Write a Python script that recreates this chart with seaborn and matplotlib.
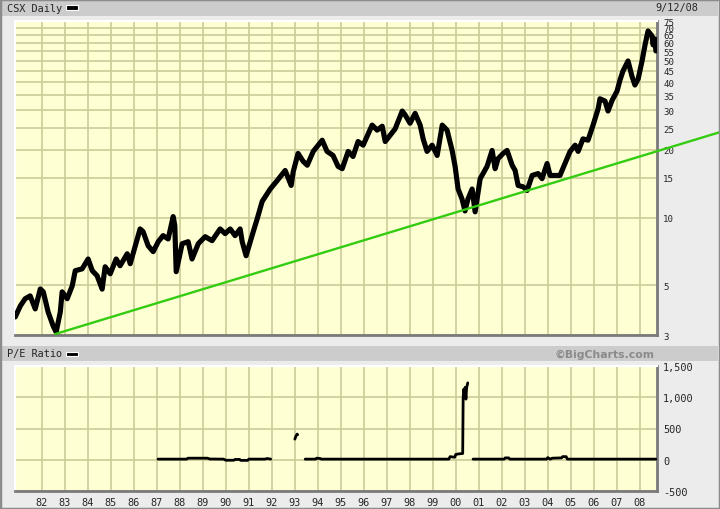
import numpy as np
import pandas as pd
import matplotlib
matplotlib.use("Agg")
import matplotlib.pyplot as plt
from matplotlib.patches import Rectangle
from matplotlib.ticker import NullLocator
import seaborn as sns

# CSX daily close (decimal years)
price_years = [1980.84, 1981.06, 1981.27, 1981.49, 1981.71, 1981.93, 1982.06, 1982.27, 1982.49, 1982.62,
               1982.80, 1982.88, 1983.10, 1983.32, 1983.45, 1983.75, 1984.01, 1984.19, 1984.40, 1984.62,
               1984.75, 1984.97, 1985.23, 1985.40, 1985.71, 1985.84, 1986.06, 1986.27, 1986.40, 1986.62,
               1986.84, 1987.06, 1987.27, 1987.49, 1987.71, 1987.78, 1987.84, 1988.10, 1988.36, 1988.53,
               1988.80, 1989.10, 1989.40, 1989.75, 1989.97, 1990.19, 1990.40, 1990.62, 1990.71, 1990.88,
               1991.14, 1991.36, 1991.58, 1991.93, 1992.23, 1992.58, 1992.84, 1992.93, 1993.14, 1993.36,
               1993.54, 1993.80, 1994.19, 1994.40, 1994.66, 1994.88, 1995.06, 1995.32, 1995.53, 1995.75,
               1995.97, 1996.36, 1996.58, 1996.80, 1996.93, 1997.14, 1997.36, 1997.67, 1997.80, 1998.01,
               1998.23, 1998.45, 1998.58, 1998.75, 1998.97, 1999.19, 1999.41, 1999.62, 1999.84, 1999.97,
               2000.10, 2000.27, 2000.40, 2000.53, 2000.71, 2000.84, 2001.06, 2001.36, 2001.58, 2001.71,
               2001.84, 2002.06, 2002.23, 2002.45, 2002.58, 2002.71, 2002.93, 2003.10, 2003.32, 2003.58,
               2003.75, 2003.97, 2004.10, 2004.32, 2004.53, 2004.75, 2004.97, 2005.19, 2005.32, 2005.53,
               2005.75, 2005.97, 2006.19, 2006.27, 2006.49, 2006.62, 2006.80, 2007.01, 2007.14, 2007.27,
               2007.49, 2007.66, 2007.79, 2007.93, 2008.10, 2008.23, 2008.36, 2008.53, 2008.58, 2008.66,
               2008.70]
price_vals = [3.61, 4.04, 4.35, 4.48, 3.92, 4.81, 4.67, 3.80, 3.29, 3.09,
              3.80, 4.67, 4.35, 4.97, 5.80, 5.91, 6.54, 5.80, 5.51, 4.80,
              6.04, 5.62, 6.54, 6.10, 6.90, 6.23, 7.49, 8.90, 8.66, 7.49,
              7.05, 7.81, 8.31, 8.03, 10.1, 9.2, 5.74, 7.65, 7.81, 6.54,
              7.65, 8.22, 7.89, 8.90, 8.48, 8.90, 8.31, 8.90, 7.81, 6.76,
              8.31, 9.85, 11.8, 13.4, 14.6, 16.2, 13.9, 16.0, 19.3, 17.8,
              17.1, 19.7, 22.1, 19.7, 18.9, 16.9, 16.5, 19.7, 18.7, 21.8,
              21.0, 25.8, 24.5, 25.5, 21.8, 23.2, 24.8, 29.8, 28.6, 26.3,
              29.1, 25.8, 22.4, 19.7, 21.0, 18.9, 25.8, 24.5, 19.9, 16.9,
              13.4, 12.1, 10.7, 12.1, 13.4, 10.6, 14.9, 16.9, 19.9, 16.5,
              18.3, 19.3, 19.9, 17.1, 16.2, 13.9, 13.7, 13.2, 15.4, 15.7,
              14.9, 17.4, 15.4, 15.4, 15.4, 17.4, 19.7, 21.0, 19.7, 22.4,
              22.1, 25.8, 30.5, 33.8, 33.0, 29.8, 33.3, 36.5, 40.9, 44.9,
              49.8, 42.6, 38.9, 41.4, 49.8, 58.7, 67.7, 64.4, 58.7, 62.4,
              55.2]

# trend line end points
trend_years = [1982.58, 2012.0]
trend_vals = [3.03, 24.9]

# P/E ratio, in separate segments (gaps where there is no data)
pe_seg = [0] * 17 + [1] * 4 + [2] * 18 + [3] * 14
pe_years = [1987.05, 1988.0, 1988.3, 1988.35, 1989.2, 1989.3, 1989.9, 1990.0, 1990.35, 1990.4,
            1990.6, 1990.65, 1990.95, 1991.0, 1991.7, 1991.8, 1991.95,
            1993.0, 1993.05, 1993.1, 1993.12,
            1993.45, 1993.9, 1993.95, 1994.1, 1994.15, 1999.7, 1999.75, 1999.95, 2000.0, 2000.15,
            2000.3, 2000.32, 2000.35, 2000.38, 2000.41, 2000.44, 2000.47, 2000.52,
            2000.75, 2002.1, 2002.15, 2002.3, 2002.35, 2003.95, 2004.0, 2004.1, 2004.2, 2004.6,
            2004.65, 2004.8, 2004.85, 2008.7]
pe_vals = [10, 10, 10, 25, 25, 12, 10, -8, -8, 5,
           5, -10, -10, 10, 10, 20, 10,
           330, 380, 410, 400,
           10, 10, 25, 20, 10, 10, 50, 40, 85, 95,
           100, 1000, 1130, 1040, 1160, 970, 1150, 1230,
           10, 10, 30, 30, 10, 10, 35, 10, 25, 30,
           50, 50, 10, 10]

price_ticks = [3, 5, 10, 15, 20, 25, 30, 35, 40, 45, 50, 55, 60, 65, 70, 75]
pe_ticks = [-500, 0, 500, 1000, 1500]
pe_labels = ["-500", "0", "500", "1,000", "1,500"]
year_ticks = list(range(1982, 2009))
year_labels = ["%02d" % (y % 100) for y in year_ticks]

price_df = pd.DataFrame({"year": price_years, "price": price_vals})
pe_df = pd.DataFrame({"year": pe_years, "pe": pe_vals, "seg": pe_seg})

sns.set_style("white")
plt.rcParams["font.family"] = ["DejaVu Sans Mono", "DejaVu Sans"]

BG = "#ececec"
BAR = "#cccccc"
PLOT_BG = "#ffffd4"
GRID = "#cccc99"

fig = plt.figure(figsize=(7.2, 5.1), dpi=100, facecolor=BG)
W, H = 720.0, 510.0

def box(x0, y0, x1, y1):
    return [x0 / W, 1 - y1 / H, (x1 - x0) / W, (y1 - y0) / H]

# header bars
fig.patches.append(Rectangle((2 / W, 1 - 16.5 / H), 716 / W, 16.5 / H, transform=fig.transFigure,
                             facecolor=BAR, edgecolor="none"))
fig.patches.append(Rectangle((2 / W, 1 - 362 / H), 716 / W, 15 / H, transform=fig.transFigure,
                             facecolor=BAR, edgecolor="none"))
# outer border
fig.patches.append(Rectangle((0, 0), 1, 1, transform=fig.transFigure, facecolor="none",
                             edgecolor="#8c8c8c", lw=2.5))

fs = 7.4
fig.text(7 / W, 1 - 8.5 / H, "CSX Daily", fontsize=fs, va="center", ha="left")
fig.patches.append(Rectangle((66 / W, 1 - 10.5 / H), 12 / W, 4.5 / H, transform=fig.transFigure,
                             facecolor="black", edgecolor="white", lw=0.8))
fig.text(698 / W, 1 - 8.5 / H, "9/12/08", fontsize=fs, va="center", ha="right")

fig.text(7 / W, 1 - 354.5 / H, "P/E Ratio", fontsize=fs, va="center", ha="left")
fig.patches.append(Rectangle((66 / W, 1 - 357 / H), 12 / W, 4.5 / H, transform=fig.transFigure,
                             facecolor="black", edgecolor="white", lw=0.8))
fig.text(655 / W, 1 - 354.5 / H, "\u00a9BigCharts.com", fontsize=7.8, va="center", ha="right",
         color="#8a8a8a", fontweight="bold", family="DejaVu Sans")

ax1 = fig.add_axes(box(15, 22, 657, 336))
ax2 = fig.add_axes(box(15, 367, 657, 492))

for ax in (ax1, ax2):
    ax.set_facecolor(PLOT_BG)
    ax.set_xlim(1980.83, 2008.75)
    ax.set_xticks(year_ticks)
    ax.grid(True, color=GRID, lw=1.2)
    ax.set_axisbelow(True)
    ax.yaxis.tick_right()
    ax.tick_params(length=0, labelsize=fs, pad=4.5)
    ax.spines["left"].set_color("white")
    ax.spines["top"].set_color("white")
    ax.spines["left"].set_linewidth(1.5)
    ax.spines["top"].set_linewidth(1.5)
    ax.spines["right"].set_color("#7a7a7a")
    ax.spines["bottom"].set_color("#7a7a7a")
    ax.spines["right"].set_linewidth(2)
    ax.spines["bottom"].set_linewidth(2)

# price panel
sns.lineplot(data=price_df, x="year", y="price", ax=ax1, color="black", lw=3.7,
             estimator=None, sort=False, zorder=3)
ax1.plot(trend_years, trend_vals, color="#33cc11", lw=1.7, clip_on=False, zorder=4)
ax1.set_yscale("log")
ax1.set_ylim(3, 75)
ax1.set_yticks(price_ticks)
ax1.set_yticklabels([str(t) for t in price_ticks])
ax1.yaxis.set_minor_locator(NullLocator())
ax1.tick_params(axis="y", labelsize=6.6)
ax1.set_xticklabels([])
ax1.set_xlabel("")
ax1.set_ylabel("")

# P/E panel
sns.lineplot(data=pe_df, x="year", y="pe", units="seg", ax=ax2, color="black", lw=2.0,
             estimator=None, sort=False, zorder=3)
ax2.set_ylim(-500, 1500)
ax2.set_yticks(pe_ticks)
ax2.set_yticklabels(pe_labels)
ax2.set_xticklabels(year_labels)
ax2.tick_params(axis="x", pad=4)
ax2.set_xlabel("")
ax2.set_ylabel("")

fig.savefig("out.png", dpi=100, facecolor=BG)
